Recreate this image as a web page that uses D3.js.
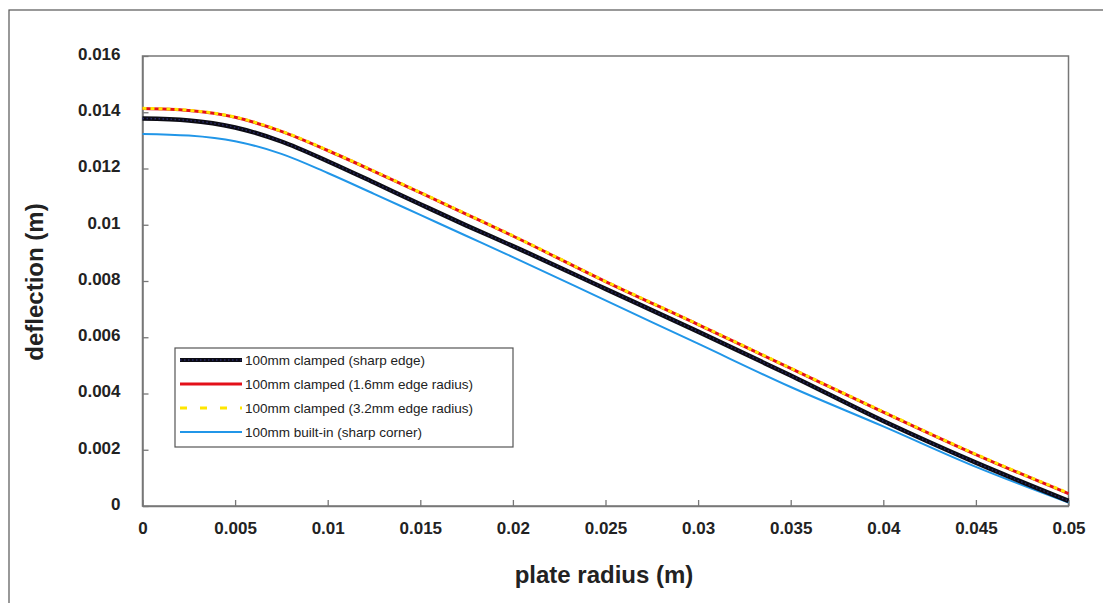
<!DOCTYPE html>
<html><head><meta charset="utf-8">
<script src="https://cdn.jsdelivr.net/npm/d3@7/dist/d3.min.js"></script>
<style>body{margin:0;background:#fff}svg{display:block}</style>
</head><body><div id="chart"></div>
<script>
const radius = [0,0.0025,0.005,0.0075,0.01,0.0125,0.015,0.0175,0.02,0.025,0.03,0.035,0.04,0.045,0.05];
const sharpEdge = [0.01378,0.01371,0.01346,0.01296,0.01226,0.01150,0.01073,0.00997,0.00924,0.00772,0.00620,0.00464,0.00302,0.00154,0.00018];
const edge16 = [0.01413,0.01406,0.01382,0.01332,0.01264,0.01190,0.01114,0.01037,0.00960,0.00798,0.00645,0.00489,0.00334,0.00183,0.00044];
const edge32 = [0.01414,0.01407,0.01383,0.01333,0.01265,0.01191,0.01115,0.01038,0.00961,0.00799,0.00646,0.00490,0.00335,0.00184,0.00046];
const builtIn = [0.01323,0.01317,0.01297,0.01252,0.01184,0.01110,0.01035,0.00960,0.00885,0.00731,0.00577,0.00423,0.00283,0.00139,0.00012];
const xTicks = [0,0.005,0.01,0.015,0.02,0.025,0.03,0.035,0.04,0.045,0.05];
const yTicks = [0,0.002,0.004,0.006,0.008,0.01,0.012,0.014,0.016];
const seriesNames = ["100mm clamped (sharp edge)","100mm clamped (1.6mm edge radius)","100mm clamped (3.2mm edge radius)","100mm built-in (sharp corner)"];

const W=1103,H=603;
const svg=d3.select("#chart").append("svg").attr("width",W).attr("height",H)
  .style("font-family","'Liberation Sans', Arial, sans-serif");
const L=142.5,R=1068.5,T=56,B=506;
const x=d3.scaleLinear().domain([0,0.05]).range([L,R]);
const y=d3.scaleLinear().domain([0,0.016]).range([B,T]);

// outer frame
svg.append("rect").attr("x",9).attr("y",10).attr("width",1110).attr("height",620)
  .attr("fill","none").attr("stroke","#555").attr("stroke-width",1.2);

// plot frame
svg.append("rect").attr("x",L).attr("y",T).attr("width",R-L).attr("height",B-T)
  .attr("fill","none").attr("stroke","#777").attr("stroke-width",1.5);

// axes (inward ticks)
const xa=svg.append("g").attr("transform",`translate(0,${B})`)
  .call(d3.axisBottom(x).tickValues(xTicks).tickSizeInner(-6).tickSizeOuter(0).tickPadding(16)
  .tickFormat(d=>d===0?"0":String(+d.toFixed(3))));
xa.select(".domain").attr("stroke","#777").attr("stroke-width",1.5);
xa.selectAll(".tick line").attr("stroke","#777").attr("stroke-width",1.3);
xa.selectAll("text").attr("font-size",17).attr("font-weight","bold").attr("fill","#222");

const ya=svg.append("g").attr("transform",`translate(${L},0)`)
  .call(d3.axisLeft(y).tickValues(yTicks).tickSizeInner(-6).tickSizeOuter(0).tickPadding(22)
  .tickFormat(d=>d===0?"0":String(+d.toFixed(3))));
ya.select(".domain").attr("stroke","#777").attr("stroke-width",1.5);
ya.selectAll(".tick line").attr("stroke","#777").attr("stroke-width",1.3);
ya.selectAll("text").attr("font-size",17).attr("font-weight","bold").attr("fill","#222").attr("dy","0.2em");

// titles
svg.append("text").attr("x",604).attr("y",583).attr("text-anchor","middle")
  .attr("font-size",24).attr("font-weight","bold").attr("fill","#222").text("plate radius (m)");
svg.append("text").attr("transform","translate(43,282) rotate(-90)").attr("text-anchor","middle")
  .attr("font-size",24).attr("font-weight","bold").attr("fill","#222").text("deflection (m)");

const line=d3.line().x((d,i)=>x(radius[i])).y(d=>y(d)).curve(d3.curveMonotoneX);
const styles=[
  {data:builtIn,stroke:"#2196e8",w:2,dash:null},
  {data:sharpEdge,stroke:"#0b0b14",w:4.5,dash:null},
  {data:edge16,stroke:"#e3101a",w:3,dash:null},
  {data:edge32,stroke:"#ffe600",w:3,dash:"4,4"}
];
styles.forEach(s=>{
  svg.append("path").attr("d",line(s.data)).attr("fill","none")
    .attr("stroke",s.stroke).attr("stroke-width",s.w).attr("stroke-dasharray",s.dash);
});
// navy dotted texture on black line
svg.append("path").attr("d",line(sharpEdge)).attr("fill","none")
  .attr("stroke","#2a2a66").attr("stroke-width",1.5).attr("stroke-dasharray","1.5,2.5");

// legend
const lg=svg.append("g");
lg.append("rect").attr("x",175).attr("y",348).attr("width",338).attr("height",99)
  .attr("fill","#fff").attr("stroke","#555").attr("stroke-width",1.2);
const legStyles=[
  {stroke:"#0b0b14",w:4,dash:null},
  {stroke:"#e3101a",w:3,dash:null},
  {stroke:"#ffe600",w:3,dash:"7,13"},
  {stroke:"#2196e8",w:2,dash:null}
];
const ly=[360,384,408,432];
seriesNames.forEach((n,i)=>{
  const s=legStyles[i];
  lg.append("line").attr("x1",180).attr("x2",242).attr("y1",ly[i]).attr("y2",ly[i])
    .attr("stroke",s.stroke).attr("stroke-width",s.w).attr("stroke-dasharray",s.dash);
  if(i===0) lg.append("line").attr("x1",180).attr("x2",242).attr("y1",ly[i]).attr("y2",ly[i])
    .attr("stroke","#2a2a66").attr("stroke-width",1.5).attr("stroke-dasharray","1.5,2.5");
  lg.append("text").attr("x",245).attr("y",ly[i]).attr("dy","0.35em")
    .attr("font-size",13.5).attr("fill","#222").text(n);
});
</script></body></html>
